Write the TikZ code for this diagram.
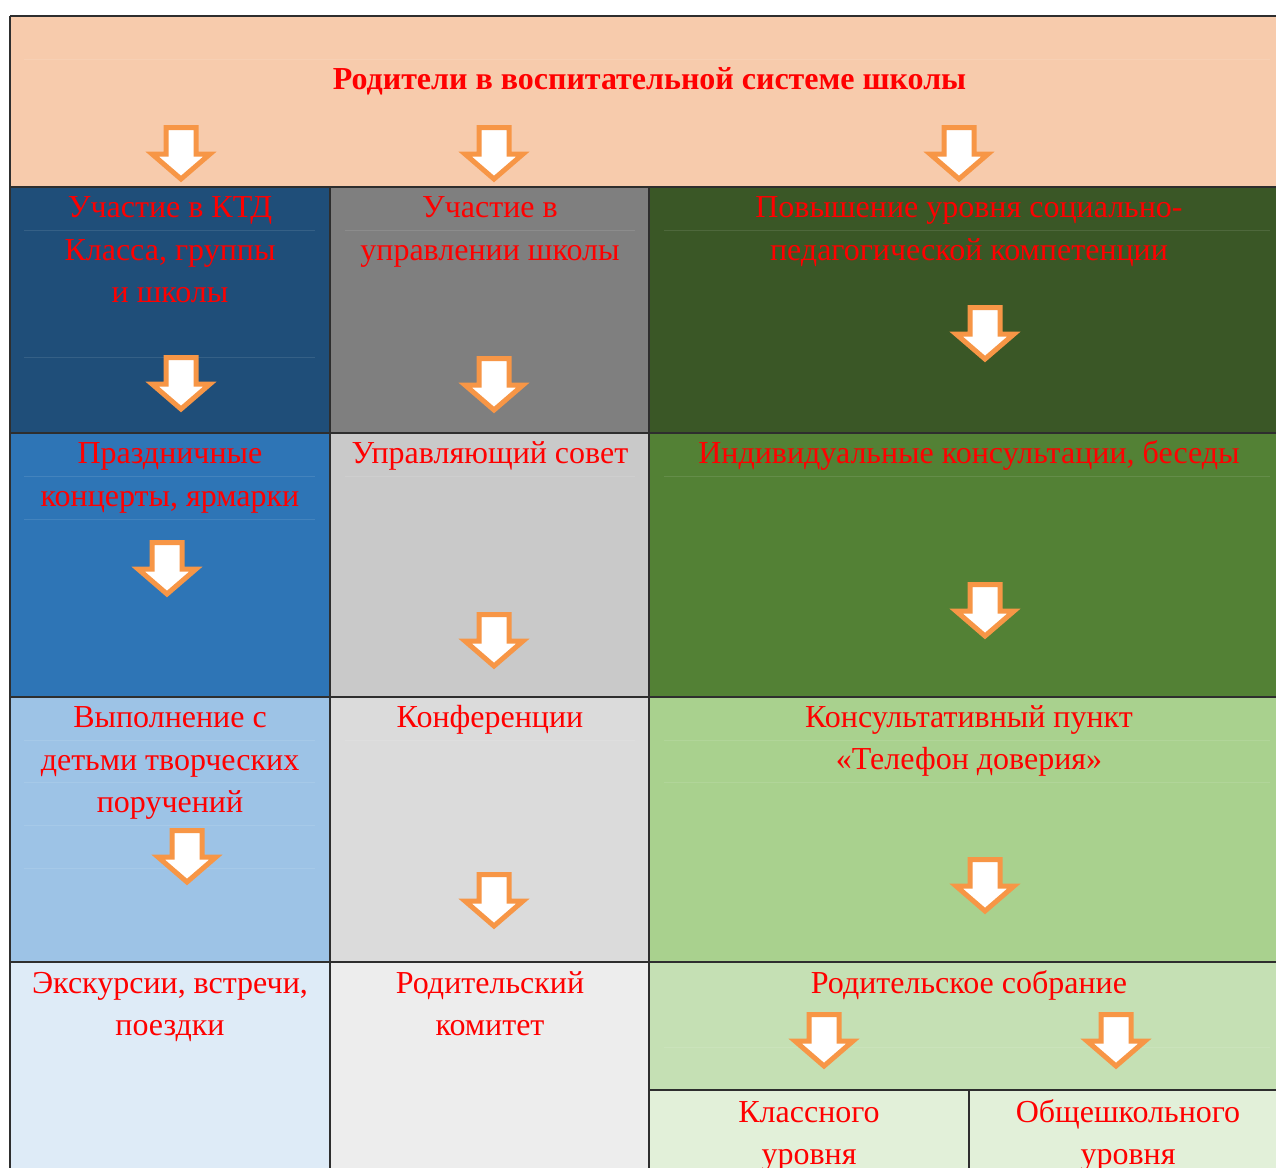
\documentclass[tikz,border=0pt]{standalone}
\usepackage{fontspec}
\setmainfont{Liberation Serif}
\definecolor{hdr}{HTML}{F7CBAC}
\definecolor{cAa}{HTML}{1F4E79}
\definecolor{cAb}{HTML}{2E75B6}
\definecolor{cAc}{HTML}{9DC3E6}
\definecolor{cAd}{HTML}{DEEBF7}
\definecolor{cBa}{HTML}{7F7F7F}
\definecolor{cBb}{HTML}{C9C9C9}
\definecolor{cBc}{HTML}{DBDBDB}
\definecolor{cBd}{HTML}{EDEDED}
\definecolor{cCa}{HTML}{3A5726}
\definecolor{cCb}{HTML}{538135}
\definecolor{cCc}{HTML}{A9D18E}
\definecolor{cCd}{HTML}{C5E0B4}
\definecolor{cCe}{HTML}{E2F0D9}
\definecolor{arrorange}{HTML}{F79646}
\definecolor{rulecol}{HTML}{2E2E2E}
\begin{document}
\begin{tikzpicture}[x=1pt,y=-1pt,
  txt/.style={text=red, font=\fontsize{32}{42}\selectfont, anchor=base, inner sep=0pt},
  ttl/.style={text=red, font=\bfseries\fontsize{32}{38}\selectfont, anchor=base, inner sep=0pt},
  gridrule/.style={draw=rulecol, line width=1.6pt},
  faint/.style={draw=white, opacity=0.1, line width=1pt},
  blockarrow/.pic={\draw[draw=arrorange, fill=white, line width=5pt, line join=miter]
     (-15,2.5) -- (15,2.5) -- (15,29) -- (29,29) -- (0,54) -- (-29,29) -- (-15,29) -- cycle;}
]
\useasboundingbox (0,0) rectangle (1276,1167);
\fill[white] (0,0) rectangle (1276,1167);
\clip (0,0) rectangle (1276,1167);
% cell backgrounds
\fill[hdr] (10,16) rectangle (1289,187);
\fill[cAa] (10,187) rectangle (330,433);
\fill[cBa] (330,187) rectangle (649,433);
\fill[cCa] (649,187) rectangle (1289,433);
\fill[cAb] (10,433) rectangle (330,697);
\fill[cBb] (330,433) rectangle (649,697);
\fill[cCb] (649,433) rectangle (1289,697);
\fill[cAc] (10,697) rectangle (330,962);
\fill[cBc] (330,697) rectangle (649,962);
\fill[cCc] (649,697) rectangle (1289,962);
\fill[cAd] (10,962) rectangle (330,1200);
\fill[cBd] (330,962) rectangle (649,1200);
\fill[cCd] (649,962) rectangle (1289,1090);
\fill[cCe] (649,1090) rectangle (1289,1200);
% faint text-grid lines
\draw[faint] (24,59) -- (1270,59);
\draw[faint] (24,230) -- (315,230) (345,230) -- (635,230) (664,230) -- (1270,230);
\draw[faint] (24,357) -- (315,357);
\draw[faint] (24,476) -- (315,476) (345,476) -- (635,476) (664,476) -- (1270,476);
\draw[faint] (24,519) -- (315,519);
\draw[faint] (24,740) -- (315,740) (345,740) -- (635,740) (664,740) -- (1270,740);
\draw[faint] (24,782) -- (315,782) (664,782) -- (1270,782);
\draw[faint] (24,825) -- (315,825);
\draw[faint] (24,868) -- (315,868);
\draw[faint] (664,1047) -- (1270,1047);
% grid rules
\draw[gridrule] (10,16) -- (1289,16);
\draw[gridrule] (10,187) -- (1289,187);
\draw[gridrule] (10,433) -- (1289,433);
\draw[gridrule] (10,697) -- (1289,697);
\draw[gridrule] (10,962) -- (1289,962);
\draw[gridrule] (649,1090) -- (1289,1090);
\draw[gridrule] (10,16) -- (10,1200);
\draw[gridrule] (330,187) -- (330,1200);
\draw[gridrule] (649,187) -- (649,1200);
\draw[gridrule] (969,1090) -- (969,1200);
% title
\node[ttl] (title) at (649.5,89) {Родители в воспитательной системе школы};
% column 1
\node[txt] (a1) at (170,217) {Участие в КТД};
\node[txt] (a2) at (170,260) {Класса, группы};
\node[txt] (a3) at (170,302) {и школы};
\node[txt] (a4) at (170,463) {Праздничные};
\node[txt] (a5) at (170,506) {концерты, ярмарки};
\node[txt] (a6) at (170,727) {Выполнение с};
\node[txt] (a7) at (170,770) {детьми творческих};
\node[txt] (a8) at (170,812) {поручений};
\node[txt] (a9) at (170,993) {Экскурсии, встречи,};
\node[txt] (a10) at (170,1035) {поездки};
% column 2
\node[txt] (b1) at (490,217) {Участие в};
\node[txt] (b2) at (490,260) {управлении школы};
\node[txt] (b3) at (490,463) {Управляющий совет};
\node[txt] (b4) at (490,727) {Конференции};
\node[txt] (b5) at (490,993) {Родительский};
\node[txt] (b6) at (490,1035) {комитет};
% column 3
\node[txt] (c1) at (969,217) {Повышение уровня социально-};
\node[txt] (c2) at (969,260) {педагогической компетенции};
\node[txt] (c3) at (969,463) {Индивидуальные консультации, беседы};
\node[txt] (c4) at (969,727) {Консультативный пункт};
\node[txt] (c5) at (969,769) {«Телефон доверия»};
\node[txt] (c6) at (969,993) {Родительское собрание};
\node[txt] (c7) at (809,1122) {Классного};
\node[txt] (c8) at (809,1164) {уровня};
\node[txt] (c9) at (1128,1122) {Общешкольного};
\node[txt] (c10) at (1128,1164) {уровня};
% block arrows
\pic at (181,125) {blockarrow};
\pic at (494,125) {blockarrow};
\pic at (959,125) {blockarrow};
\pic at (181,355) {blockarrow};
\pic at (494,356) {blockarrow};
\pic at (985,305) {blockarrow};
\pic at (167,540) {blockarrow};
\pic at (494,612) {blockarrow};
\pic at (985,582) {blockarrow};
\pic at (187,828) {blockarrow};
\pic at (494,872) {blockarrow};
\pic at (985,857) {blockarrow};
\pic at (824,1012) {blockarrow};
\pic at (1116,1012) {blockarrow};
\end{tikzpicture}
\end{document}
